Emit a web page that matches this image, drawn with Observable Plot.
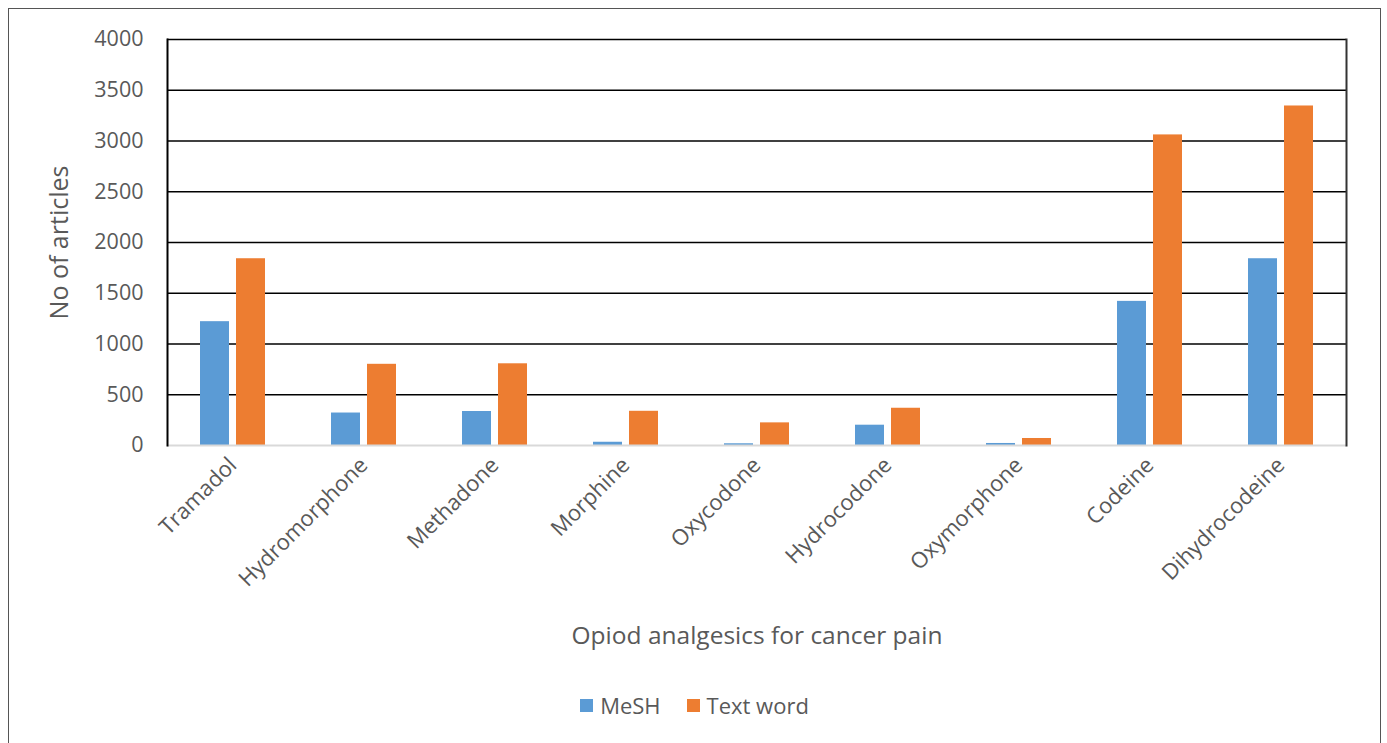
<!DOCTYPE html>
<html><head><meta charset="utf-8">
<script src="https://cdn.jsdelivr.net/npm/d3@7"></script>
<script src="https://cdn.jsdelivr.net/npm/@observablehq/plot@0.6"></script>
<style>
body{margin:0;background:#fff;font-family:"Open Sans",sans-serif;}
#frame{position:absolute;left:8px;top:8px;width:1373px;height:780px;border:1.5px solid #555;box-sizing:border-box;}
#chart{position:absolute;left:0;top:0;}
#legend{position:absolute;left:0;width:100%;top:681px;display:flex;justify-content:center;gap:26px;font-size:22px;color:#595959;}
#legend span.item{display:flex;align-items:center;gap:7px;}
#legend span.sw{display:inline-block;width:13px;height:13px;}
</style></head><body>
<div id="frame"><div id="chart"></div><div id="legend"></div></div>
<script>
const categories = ["Tramadol","Hydromorphone","Methadone","Morphine","Oxycodone","Hydrocodone","Oxymorphone","Codeine","Dihydrocodeine"];
const series = ["MeSH","Text word"];
const meshValues = [1220,320,335,32,17,200,20,1420,1840];
const textWordValues = [1840,800,805,337,223,367,69,3060,3345];
const yTicks = [0,500,1000,1500,2000,2500,3000,3500,4000];
const colors = ["#5B9BD5","#ED7D31"];
const yLabel = "No of articles";
const xLabel = "Opiod analgesics for cancer pain";

const data = categories.flatMap((c, i) => [
  {category: c, series: series[0], value: meshValues[i]},
  {category: c, series: series[1], value: textWordValues[i]}
]);

const plot = Plot.plot({
  width: 1370, height: 650,
  marginLeft: 154, marginRight: 29, marginTop: 30, marginBottom: 214,
  style: {fontFamily: "'Open Sans', sans-serif", fontSize: "21px", color: "#595959", background: "transparent"},
  fx: {domain: categories, padding: 0},
  x: {domain: series, paddingInner: 0.19, paddingOuter: 0.87, axis: null},
  y: {domain: [0, 4000]},
  color: {domain: series, range: colors},
  marks: [
    Plot.ruleY(yTicks.filter(d => d > 0), {stroke: "#000", strokeWidth: 1.6}),
    Plot.barY(data, {fx: "category", x: "series", y: "value", fill: "series"}),
    Plot.ruleY([0], {stroke: "#d9d9d9", strokeWidth: 2}),
    Plot.axisY({ticks: yTicks, tickSize: 0, tickPadding: 24, tickFormat: d => String(d), label: null, fontSize: 21.5}),
    Plot.axisY({ticks: [], label: yLabel, labelArrow: "none", labelAnchor: "center", labelOffset: 117, fontSize: 25}),
    Plot.axisFx({anchor: "bottom", tickRotate: -45, tickSize: 0, tickPadding: 16, label: null, fontSize: 22}),
    Plot.axisFx({anchor: "bottom", ticks: [], label: xLabel, labelArrow: "none", labelAnchor: "center", labelOffset: 198, fontSize: 24.5}),
    Plot.frame({anchor: "left", facet: "super", stroke: "#000", strokeWidth: 2}),
    Plot.frame({anchor: "right", facet: "super", stroke: "#333", strokeWidth: 2})
  ]
});
document.getElementById("chart").appendChild(plot);

const legend = document.getElementById("legend");
series.forEach((s, i) => {
  const item = document.createElement("span");
  item.className = "item";
  const sw = document.createElement("span");
  sw.className = "sw";
  sw.style.background = colors[i];
  item.appendChild(sw);
  item.appendChild(document.createTextNode(s));
  legend.appendChild(item);
});
</script>
</body></html>
